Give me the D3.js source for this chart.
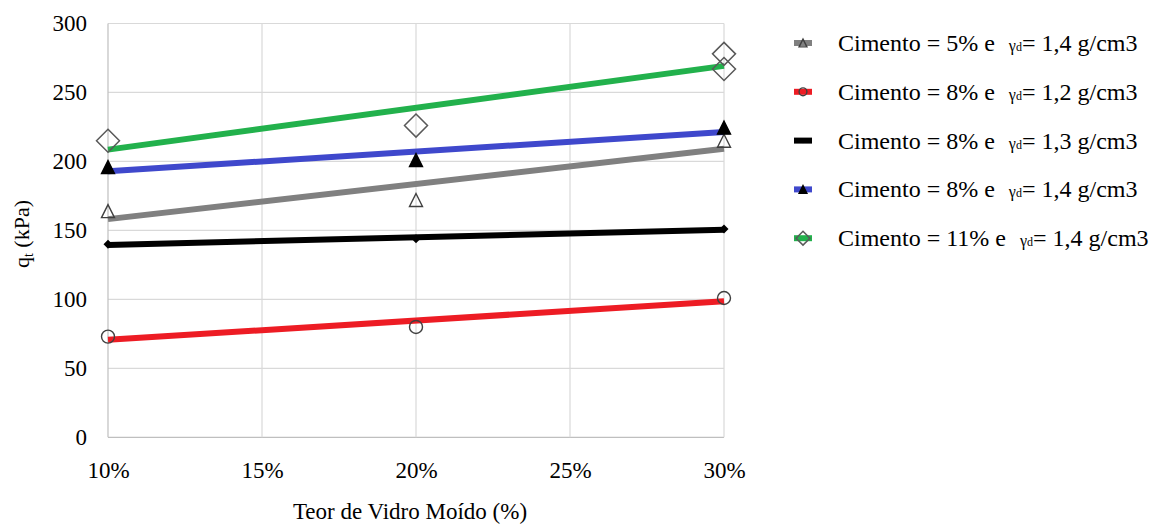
<!DOCTYPE html>
<html><head><meta charset="utf-8">
<script src="https://cdn.jsdelivr.net/npm/d3@7"></script>
<style>
html,body{margin:0;padding:0;background:#fff;}
</style></head>
<body><svg id="c" width="1157" height="524"></svg>
<script>
// ---- data ----
const xTicks = [10, 15, 20, 25, 30];
const yTicks = [0, 50, 100, 150, 200, 250, 300];
const xA = [10, 20, 30];
const xGreen = [10, 20, 30, 30];
const cim5_d14 = [164, 172, 215];
const cim8_d12 = [73, 80, 101];
const cim8_d13 = [140, 144, 151];
const cim8_d14 = [196, 201, 224.5];
const cim11_d14 = [215, 226, 278, 267];
const legendPct = ["5%", "8%", "8%", "8%", "11%"];
const legendDens = ["1,4", "1,2", "1,3", "1,4", "1,4"];

const SERIF = "'Liberation Serif', 'Times New Roman', serif";
const series = [
  {x: xA, y: cim5_d14, color: "#808080", marker: "triOpen"},
  {x: xA, y: cim8_d12, color: "#ed1c24", marker: "circleOpen"},
  {x: xA, y: cim8_d13, color: "#000000", marker: "diamondSmall"},
  {x: xA, y: cim8_d14, color: "#3f48cc", marker: "triFilled"},
  {x: xGreen, y: cim11_d14, color: "#22b14c", marker: "diamondOpen"}
];

const svg = d3.select("#c").style("font-family", SERIF);
const L = 108, R = 724, T = 23.5, B = 437.3;
const x = d3.scaleLinear().domain([10, 30]).range([L, R]);
const y = d3.scaleLinear().domain([0, 300]).range([B, T]);

// grid
svg.append("g").selectAll("line").data(yTicks).join("line")
  .attr("x1", L).attr("x2", R).attr("y1", d => y(d)).attr("y2", d => y(d))
  .attr("stroke", d => d === 0 ? "#bfbfbf" : "#d9d9d9").attr("stroke-width", 1.2);
svg.append("g").selectAll("line").data(xTicks).join("line")
  .attr("y1", T).attr("y2", B).attr("x1", d => x(d)).attr("x2", d => x(d))
  .attr("stroke", d => d === 10 ? "#bfbfbf" : "#d9d9d9").attr("stroke-width", 1.2);

// axes
const yAxis = d3.axisLeft(y).tickValues(yTicks).tickSize(0).tickPadding(21);
const gy = svg.append("g").attr("transform", `translate(${L},0)`).call(yAxis);
gy.select(".domain").remove();
gy.selectAll("text").style("font-family", SERIF).style("font-size", "23px").attr("fill", "#000");
const xAxis = d3.axisBottom(x).tickValues(xTicks).tickSize(0).tickPadding(24).tickFormat(d => d + "%");
const gx = svg.append("g").attr("transform", `translate(0,${B})`).call(xAxis);
gx.select(".domain").remove();
gx.selectAll("text").style("font-family", SERIF).style("font-size", "23px").attr("fill", "#000");

// axis titles
svg.append("text").attr("x", (L + R) / 2 - 6).attr("y", 519).attr("text-anchor", "middle")
  .style("font-family", SERIF).style("font-size", "23px").text("Teor de Vidro Moído (%)");
const yl = svg.append("text").attr("transform", "translate(29,234) rotate(-90)")
  .attr("text-anchor", "middle").style("font-family", SERIF).style("font-size", "22px");
yl.append("tspan").text("q");
yl.append("tspan").attr("dy", 4).style("font-size", "14px").text("t");
yl.append("tspan").attr("dy", -4).text(" (kPa)");

// trendlines
function fit(xs, ys) {
  const mx = d3.mean(xs), my = d3.mean(ys);
  let sxy = 0, sxx = 0;
  xs.forEach((v, i) => { sxy += (v - mx) * (ys[i] - my); sxx += (v - mx) * (v - mx); });
  const b = sxy / sxx;
  return v => my + b * (v - mx);
}
series.forEach(s => {
  const f = fit(s.x, s.y);
  const x0 = d3.min(s.x), x1 = d3.max(s.x);
  svg.append("line").attr("x1", x(x0)).attr("x2", x(x1))
    .attr("y1", y(f(x0))).attr("y2", y(f(x1)))
    .attr("stroke", s.color).attr("stroke-width", 6);
});

// markers
function drawMarker(g, type, cx, cy, k) {
  k = k || 1;
  if (type === "triOpen" || type === "triFilled") {
    const h = 13 * k, w = 13 * k;
    g.append("path").attr("d", `M${cx},${cy - h / 2}L${cx + w / 2},${cy + h / 2}L${cx - w / 2},${cy + h / 2}Z`)
      .attr("fill", type === "triFilled" ? "#000" : "none")
      .attr("stroke", type === "triFilled" ? "#000" : "#404040").attr("stroke-width", 1.4);
  } else if (type === "circleOpen") {
    g.append("circle").attr("cx", cx).attr("cy", cy).attr("r", 6.5 * k)
      .attr("fill", "none").attr("stroke", "#404040").attr("stroke-width", 1.4);
  } else if (type === "diamondSmall") {
    const r = 4.5 * k;
    g.append("path").attr("d", `M${cx},${cy - r}L${cx + r},${cy}L${cx},${cy + r}L${cx - r},${cy}Z`)
      .attr("fill", "#000");
  } else if (type === "diamondOpen") {
    const r = 11.5 * k;
    g.append("path").attr("d", `M${cx},${cy - r}L${cx + r},${cy}L${cx},${cy + r}L${cx - r},${cy}Z`)
      .attr("fill", "none").attr("stroke", "#595959").attr("stroke-width", 1.5);
  }
}
const mg = svg.append("g");
series.forEach(s => {
  s.x.forEach((v, i) => drawMarker(mg, s.marker, x(v), y(s.y[i])));
});

// legend
const lg = svg.append("g");
series.forEach((s, i) => {
  const cy = 43 + i * 48.8;
  lg.append("line").attr("x1", 794).attr("x2", 812).attr("y1", cy).attr("y2", cy)
    .attr("stroke", s.color).attr("stroke-width", 6);
  drawMarker(lg, s.marker, 803, cy, 0.6);
  const t = lg.append("text").attr("x", 838).attr("y", cy + 8)
    .style("font-family", SERIF).style("font-size", "24px")
    .attr("xml:space", "preserve");
  t.append("tspan").text("Cimento = " + legendPct[i] + " e ");
  t.append("tspan").attr("dx", 8).style("font-size", "16px").text("γ");
  t.append("tspan").style("font-size", "12px").text("d");
  t.append("tspan").text("= " + legendDens[i] + " g/cm3");
});
</script></body></html>
